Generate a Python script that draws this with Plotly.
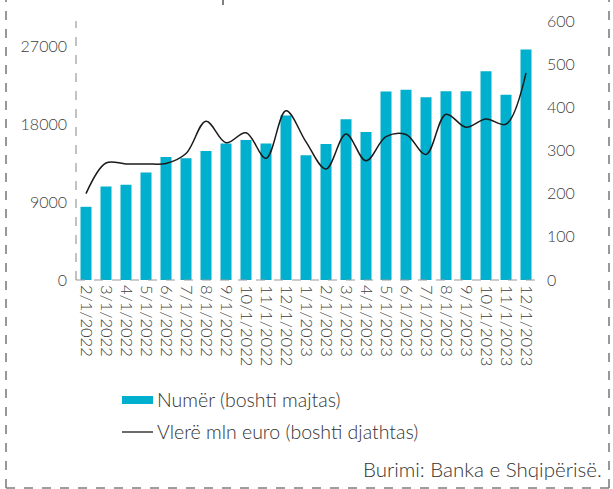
import plotly.graph_objects as go

# Monthly data, Feb 2022 - Dec 2023
months = ["2/1/2022", "3/1/2022", "4/1/2022", "5/1/2022", "6/1/2022", "7/1/2022",
          "8/1/2022", "9/1/2022", "10/1/2022", "11/1/2022", "12/1/2022",
          "1/1/2023", "2/1/2023", "3/1/2023", "4/1/2023", "5/1/2023", "6/1/2023",
          "7/1/2023", "8/1/2023", "9/1/2023", "10/1/2023", "11/1/2023", "12/1/2023"]

# Number of transactions (left axis)
numer = [8450, 10800, 11000, 12400, 14200, 14050, 14900, 15750, 16150, 15750, 19000,
         14400, 15700, 18550, 17100, 21750, 21950, 21100, 21800, 21800, 24100, 21400, 26600]

# Value in million euro (right axis)
vlere = [200, 271, 269, 269, 270, 293, 368, 318, 341, 282, 392,
         320, 257, 338, 276, 332, 337, 291, 384, 354, 373, 361, 480]

left_ticks = [0, 9000, 18000, 27000]
right_ticks = [0, 100, 200, 300, 400, 500, 600]

W, H = 613, 489
L, R, T, B = 76, 77, 21, 209
PW, PH = W - L - R, H - T - B

CYAN = "#00B0CE"
GREY = "#404040"
FONT = "Lato"


def px(x):
    return (x - L) / PW


def py(y):
    return (H - B - y) / PH


fig = go.Figure()
fig.add_trace(go.Bar(x=months, y=numer, marker=dict(color=CYAN, line=dict(width=0)),
                     name="Numër (boshti majtas)", showlegend=False))
fig.add_trace(go.Scatter(x=months, y=vlere, yaxis="y2", mode="lines",
                         line=dict(color="#1a1a1a", width=1.5, shape="spline", smoothing=1.0),
                         name="Vlerë mln euro (boshti djathtas)", showlegend=False))

dash_grey = dict(color="#9a9a9a", width=1.2, dash="dash")
frame = dict(color="#7f7f7f", width=1.6, dash="dash")
shapes = [
    # dashed axis lines
    dict(type="line", xref="paper", yref="paper", x0=0, x1=0, y0=0, y1=1, line=dash_grey),
    dict(type="line", xref="paper", yref="paper", x0=0, x1=1, y0=0, y1=0, line=dash_grey),
    # outer dashed frame
    dict(type="line", xref="paper", yref="paper", x0=px(6), x1=px(6), y0=py(488), y1=py(0), line=frame),
    dict(type="line", xref="paper", yref="paper", x0=px(609), x1=px(609), y0=py(488), y1=py(0), line=frame),
    dict(type="line", xref="paper", yref="paper", x0=px(6), x1=px(609), y0=py(488), y1=py(488), line=frame),
    # small stroke of the heading above
    dict(type="line", xref="paper", yref="paper", x0=px(223), x1=px(223), y0=py(0), y1=py(5),
         line=dict(color="#555555", width=1.5)),
    # legend swatches
    dict(type="rect", xref="paper", yref="paper", x0=px(122), x1=px(153), y0=py(404), y1=py(396),
         fillcolor=CYAN, line=dict(width=0)),
    dict(type="line", xref="paper", yref="paper", x0=px(122), x1=px(153), y0=py(432), y1=py(432),
         line=dict(color="#1a1a1a", width=1.3)),
]

xfont = dict(family=FONT, size=16.5, color=GREY, weight=300)
yfont = dict(family=FONT, size=16, color=GREY, weight=300)
lfont = dict(family=FONT, size=19.5, color="#333333", weight=300)
annotations = [
    dict(xref="paper", yref="paper", x=px(155), y=py(399), xanchor="left", yanchor="middle",
         text="Numër (boshti majtas)", showarrow=False, font=lfont),
    dict(xref="paper", yref="paper", x=px(155), y=py(431), xanchor="left", yanchor="middle",
         text="Vlerë mln euro (boshti djathtas)", showarrow=False, font=lfont),
    dict(xref="paper", yref="paper", x=px(604), y=py(469), xanchor="right", yanchor="middle",
         text="Burimi: Banka e Shqipërisë.", showarrow=False,
         font=dict(family=FONT, size=20.5, color="#333333", weight=300)),
]

fig.update_layout(
    width=W, height=H,
    margin=dict(l=L, r=R, t=T, b=B, pad=0),
    paper_bgcolor="white", plot_bgcolor="white",
    bargap=0.45,
    showlegend=False,
    xaxis=dict(type="category", tickmode="array", tickvals=months, ticktext=months,
               tickangle=90, tickfont=xfont, showgrid=False, showline=False,
               ticks="", zeroline=False, ticklabelstandoff=4),
    yaxis=dict(range=[0, 29900], tickvals=left_ticks, ticktext=[str(v) for v in left_ticks],
               tickfont=yfont, showgrid=False, showline=False, zeroline=False, ticks="",
               ticklabelstandoff=8),
    yaxis2=dict(range=[0, 600], tickvals=right_ticks, overlaying="y", side="right",
                tickfont=yfont, showgrid=False, showline=False, zeroline=False, ticks="",
                ticklabelstandoff=10),
    shapes=shapes,
    annotations=annotations,
)

fig.write_html("out.html")
